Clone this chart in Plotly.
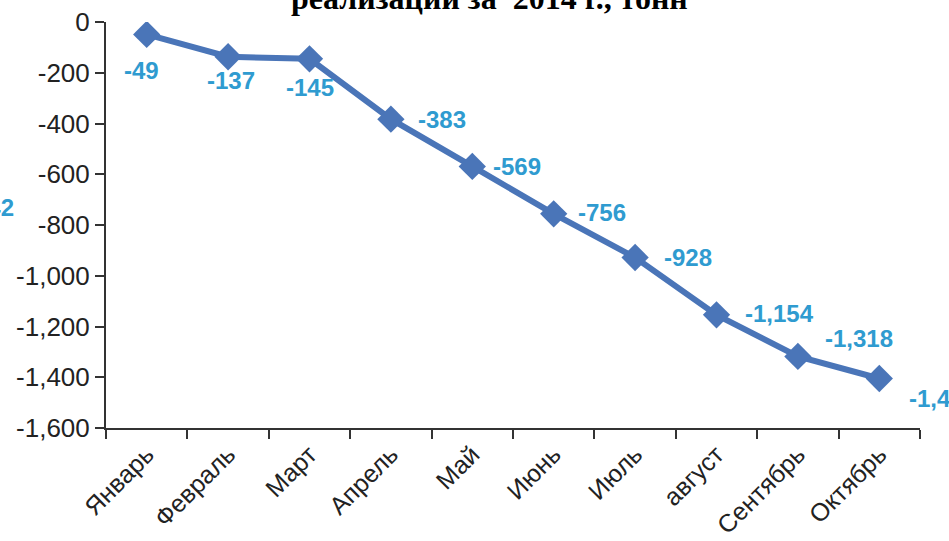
import plotly.graph_objects as go

months = ["Январь", "Февраль", "Март", "Апрель", "Май", "Июнь", "Июль",
          "август", "Сентябрь", "Октябрь"]
values = [-49, -137, -145, -383, -569, -756, -928, -1154, -1318, -1405]
y_tickvals = [0, -200, -400, -600, -800, -1000, -1200, -1400, -1600]
y_ticktext = ["0", "-200", "-400", "-600", "-800", "-1,000", "-1,200", "-1,400", "-1,600"]
title_text = "реализации за  2014 г., тонн"
fragment_text = "-1,242"

# label placement styles (offsets in px), one per point
label_style = [
    dict(xanchor="center", yanchor="middle", xshift=-5, yshift=-36),
    dict(xanchor="center", yanchor="middle", xshift=3, yshift=-24),
    dict(xanchor="center", yanchor="middle", xshift=0, yshift=-29),
    dict(xanchor="left", yanchor="middle", xshift=25, yshift=0),
    dict(xanchor="left", yanchor="middle", xshift=19, yshift=0),
    dict(xanchor="left", yanchor="middle", xshift=22, yshift=1),
    dict(xanchor="left", yanchor="middle", xshift=27, yshift=0),
    dict(xanchor="left", yanchor="middle", xshift=26, yshift=1),
    dict(xanchor="left", yanchor="middle", xshift=25, yshift=18),
    dict(xanchor="left", yanchor="middle", xshift=28, yshift=-20),
]

line_color = "#4a75b8"
label_color = "#2f9bd0"
axis_color = "#333333"

fig = go.Figure()
fig.add_trace(go.Scatter(
    x=months, y=values, mode="lines+markers",
    line=dict(color=line_color, width=6),
    marker=dict(symbol="diamond", size=21, color=line_color),
    hoverinfo="skip", showlegend=False,
))

annotations = []
for m, v, st in zip(months, values, label_style):
    annotations.append(dict(
        x=m, y=v, xref="x", yref="y", text=f"<b>{v:,}</b>", showarrow=False,
        font=dict(family="Liberation Sans, Arial", size=24, color=label_color),
        **st,
    ))
annotations.append(dict(
    x=0.5, y=1, xref="paper", yref="paper", text=f"<b>{title_text}</b>",
    showarrow=False, xanchor="center", yanchor="bottom", yshift=4, xshift=-24,
    font=dict(family="Liberation Serif, Times New Roman", size=32, color="#000000"),
))
annotations.append(dict(
    x=0, y=0.544, xref="paper", yref="paper", text=f"<b>{fragment_text}</b>",
    showarrow=False, xanchor="right", yanchor="middle", xshift=-90,
    font=dict(family="Liberation Sans, Arial", size=24, color=label_color),
))

fig.update_layout(
    width=949, height=541,
    margin=dict(l=106, r=29, t=22, b=113, autoexpand=False),
    paper_bgcolor="#ffffff", plot_bgcolor="#ffffff",
    annotations=annotations,
    hovermode=False,
    xaxis=dict(
        type="category", range=[-0.5, 9.5], tickson="boundaries",
        ticks="outside", ticklen=9, tickwidth=2, tickcolor=axis_color,
        showline=True, linecolor=axis_color, linewidth=2,
        showgrid=False, zeroline=False, tickangle=-45, automargin=False,
        ticklabeloverflow="allow",
        tickfont=dict(family="Liberation Sans, Arial", size=25, color="#222222"),
    ),
    yaxis=dict(
        range=[-1600, 0], tickvals=y_tickvals, ticktext=y_ticktext,
        ticks="outside", ticklen=9, tickwidth=2, tickcolor=axis_color,
        showline=True, linecolor=axis_color, linewidth=2,
        showgrid=False, zeroline=False, automargin=False,
        ticklabeloverflow="allow",
        tickfont=dict(family="Liberation Sans, Arial", size=26, color="#222222"),
    ),
)

fig.write_html("out.html", config={"displayModeBar": False},
               post_script="document.body.style.margin='0px';")
